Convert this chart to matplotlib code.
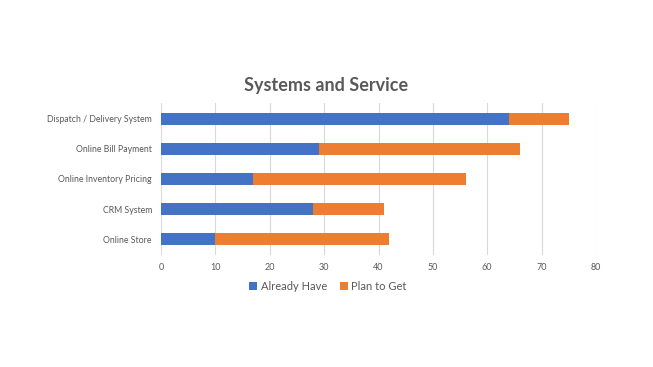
import matplotlib.pyplot as plt

# Data
systems = ['Dispatch / Delivery System', 'Online Bill Payment', 'Online Inventory Pricing',
           'CRM System', 'Online Store']
already_have = [64, 29, 17, 28, 10]
plan_to_get = [11, 37, 39, 13, 32]

plt.rcParams['font.family'] = ['Lato', 'DejaVu Sans']
grey = '#595959'

fig = plt.figure(figsize=(6.53, 3.67), dpi=100)
ax = fig.add_axes([161 / 653, 1 - 255 / 367, 435 / 653, 152 / 367])

pos = list(range(len(systems)))
ax.barh(pos, already_have, height=0.4, color='#4472C4', label='Already Have', zorder=3)
ax.barh(pos, plan_to_get, left=already_have, height=0.4, color='#ED7D31',
        label='Plan to Get', zorder=3)

ax.set_yticks(pos)
ax.set_yticklabels(systems, fontsize=6.3, color=grey)
ax.set_ylim(len(systems) - 0.47, -0.53)
ax.set_xlim(0, 80)
ax.set_xticks(range(0, 81, 10))
ax.tick_params(axis='x', labelsize=6.5, colors=grey, length=0, pad=6)
ax.tick_params(axis='y', length=0, pad=6.5)
ax.grid(axis='x', color='#d9d9d9', linewidth=0.8, zorder=0)
for s in ax.spines.values():
    s.set_visible(False)

fig.text(0.5, 1 - 85 / 367, 'Systems and Service', ha='center', va='center',
         fontsize=13, fontweight='bold', color=grey)

fig.legend(loc='center', bbox_to_anchor=(328 / 653, 1 - 286 / 367), ncol=2,
           frameon=False, fontsize=8, handlelength=0.7, handleheight=0.7,
           handletextpad=0.3, columnspacing=1.2, labelcolor=grey)

fig.savefig('out.png', dpi=100, facecolor='white')
